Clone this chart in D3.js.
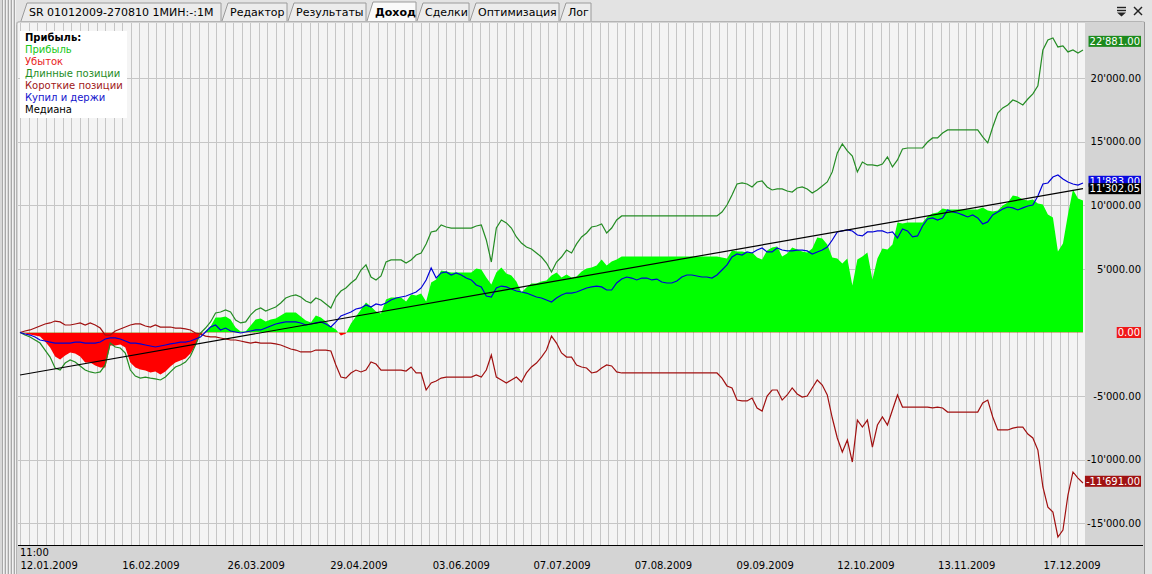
<!DOCTYPE html>
<html><head><meta charset="utf-8">
<script src="https://cdn.jsdelivr.net/npm/d3@7"></script>
<style>
html,body{margin:0;padding:0;background:#d4d4d4;overflow:hidden;}
svg{display:block;font-family:"DejaVu Sans",Verdana,sans-serif;}
</style></head><body>
<svg id="c" width="1152" height="574"></svg>
<script>
// ---- data (bar-sampled, start 12.01.2009 11:00) ----
const tabs = ["SR 01012009-270810 1МИН:-:1М","Редактор","Результаты","Доход","Сделки","Оптимизация","Лог"];
const activeTab = "Доход";
const legendTitle = "Прибыль:";
const legendItems = ["Прибыль","Убыток","Длинные позиции","Короткие позиции","Купил и держи","Медиана"];
const dateLabels = ["12.01.2009","16.02.2009","26.03.2009","29.04.2009","03.06.2009","07.07.2009","07.08.2009","09.09.2009","12.10.2009","13.11.2009","17.12.2009"];
const dateTickIdx = [0,20.3,41.3,61.8,82.2,102.3,122.5,142.8,162.9,183,204];
const timeLabel = "11:00";
const yTicks = [-15000,-10000,-5000,5000,10000,15000,20000];

const longPos = [0,-200,-350,-590,-830,-1380,-1930,-2790,-2950,-2400,-2160,-2320,-2630,-2950,-3100,-3180,-3100,-2550,-830,-1140,
-1220,-1610,-2950,-3420,-3580,-3500,-3580,-3650,-3730,-3500,-3100,-2710,-2550,-2320,-1850,-980,-40,350,830,1530,
1610,1770,1610,980,750,830,1380,1770,1930,1690,1850,2000,2320,2710,2870,2950,2790,2480,2320,2710,
2550,2240,1930,2790,3260,3500,3890,4200,4910,5310,4360,4130,4440,5540,5700,5700,5700,5460,5700,6090,
6250,6960,7900,7980,8450,8290,8210,8210,8210,8210,8210,8370,8450,7270,5540,8210,8840,8610,8210,7510,
7030,6720,6560,6250,5930,5460,4760,5540,5930,6480,6250,6960,7510,7820,8290,8370,8530,7820,8210,8840,
9160,9160,9160,9160,9160,9160,9160,9160,9160,9160,9160,9160,9160,9160,9160,9160,9160,9160,9160,9160,
9470,10020,10810,11670,11750,11670,11440,11830,11910,11440,11200,11280,11280,11120,11040,11360,11440,11280,10960,11200,
11510,11830,12620,14110,14820,14270,13870,12620,13400,13170,13170,13090,13240,13790,13010,13560,14420,14500,14500,14500,
14500,14970,15290,15290,15680,15920,15920,15920,15920,15920,15920,15920,15370,14900,16150,17250,17650,17880,18270,18120,
17880,18350,18750,19380,22200,22990,23150,22440,22520,22050,22200,21970,22200];

const shortPos = [0,120,200,350,510,670,750,900,830,590,590,670,750,590,750,590,350,-200,-200,120,
280,430,590,670,670,510,430,590,430,430,430,350,350,280,200,-40,-120,-280,-350,-350,
-430,-510,-590,-590,-670,-750,-830,-750,-830,-830,-830,-900,-980,-1140,-1300,-1380,-1530,-1530,-1530,-1380,
-1380,-1380,-1450,-2550,-3500,-3580,-3180,-2950,-3100,-2950,-2320,-2480,-2950,-2950,-2950,-2950,-2950,-3030,-2710,-3180,
-3180,-4520,-3970,-3810,-3580,-3500,-3500,-3500,-3500,-3500,-3500,-3340,-3500,-2950,-1770,-3500,-3730,-3970,-3730,-3500,
-3890,-3180,-2710,-2400,-1930,-1380,-280,-830,-1610,-1930,-1930,-2550,-2710,-2790,-3180,-3100,-2790,-2550,-2630,-3100,
-3180,-3180,-3180,-3180,-3180,-3180,-3180,-3180,-3180,-3180,-3180,-3180,-3180,-3180,-3180,-3180,-3180,-3180,-3180,-3180,
-3580,-4200,-4360,-5310,-5380,-5380,-5150,-5930,-6170,-4990,-4520,-4520,-5310,-4910,-4360,-4830,-5070,-4990,-4360,-3730,
-4130,-4910,-6720,-8290,-9390,-8450,-10180,-6880,-7430,-6880,-9000,-7270,-6640,-7270,-6090,-4910,-5860,-5860,-5860,-5860,
-5860,-5860,-5930,-5860,-5930,-6250,-6250,-6250,-6250,-6250,-6250,-6250,-5540,-5310,-6640,-7660,-7660,-7660,-7510,-7430,
-7430,-7980,-8290,-9240,-12140,-13720,-14110,-16070,-15520,-12770,-10960,-11440,-11830];

const buyHold = [0,-120,-200,-350,-590,-670,-750,-830,-830,-830,-830,-750,-750,-830,-830,-830,-750,-510,-430,-430,
-510,-670,-830,-830,-900,-980,-1060,-1140,-1060,-980,-900,-830,-750,-750,-670,-510,-350,40,430,590,
200,350,120,40,-40,40,120,200,200,350,510,670,750,830,830,830,750,590,670,750,
830,670,430,830,1300,1450,1610,1850,1930,2160,2000,2240,2160,2320,2550,2710,2790,2870,3030,3180,
3500,4130,5070,4280,4680,4760,4520,4680,4520,4280,4130,3730,3580,2870,2790,3500,3650,3580,3420,3260,
3180,3100,2950,2790,2710,2550,2400,2710,2950,3100,3100,3180,3340,3500,3580,3650,3580,3340,3340,3890,
4200,4360,4280,4130,4280,4280,4130,4200,3970,3890,3890,4050,4360,4520,4520,4440,4360,4360,4280,4520,
4910,5310,5930,6170,6090,6330,6250,6480,6640,6330,6330,6640,6480,6410,6410,6480,6480,6410,6170,6330,
6480,6720,7270,7900,7980,8060,7980,7660,7590,7900,7900,7980,7980,7820,7900,7430,8140,7980,7510,7590,
8370,8920,9000,8840,9000,9630,9470,9390,9240,9080,9240,9000,8530,8690,9240,9470,9710,9860,9790,9630,
9790,9940,10020,10730,11670,11750,12220,12380,12070,11830,11670,11590,11750];

const profit = [0,-80,-150,-240,-320,-710,-1180,-1890,-2120,-1810,-1570,-1650,-1880,-2360,-2350,-2590,-2750,-2750,-1030,-1020,
-940,-1180,-2360,-2750,-2910,-2990,-3150,-3060,-3300,-3070,-2670,-2360,-2200,-2040,-1650,-1020,-160,70,480,1180,
1180,1260,1020,390,80,80,550,1020,1100,860,1020,1100,1340,1570,1570,1570,1260,950,790,1330,
1170,860,480,240,-240,-80,710,1250,1810,2360,2040,1650,1490,2590,2750,2750,2750,2430,2990,2910,
3070,2440,3930,4170,4870,4790,4710,4710,4710,4710,4710,5030,4950,4320,3770,4710,5110,4640,4480,4010,
3140,3540,3850,3850,4000,4080,4480,4710,4320,4550,4320,4410,4800,5030,5110,5270,5740,5270,5580,5740,
5980,5980,5980,5980,5980,5980,5980,5980,5980,5980,5980,5980,5980,5980,5980,5980,5980,5980,5980,5980,
5890,5820,6450,6360,6370,6290,6290,5900,5740,6450,6680,6760,5970,6210,6680,6530,6370,6290,6600,7470,
7380,6920,5900,5820,5430,5820,3690,5740,5970,6290,4170,5820,6600,6520,6920,8650,8560,8640,8640,8640,
8640,9110,9360,9430,9750,9670,9670,9670,9670,9670,9670,9670,9830,9590,9510,9590,9990,10220,10760,10690,
10450,10370,10460,10140,10060,9270,9040,6370,7000,9280,11240,10530,10370];

const median = [-3340, 11302.05];           // straight trend line: first and last bar
const lastTags = [
  {name:"long",   value:22881,    color:"#1c8a1c"},
  {name:"loss",   value:0,        color:"#f01818"},
  {name:"short",  value:-11691,   color:"#a01212"},
  {name:"bh",     value:11883,    color:"#0a0ae0"},
  {name:"median", value:11302.05, color:"#000000"}
];

// ---- layout ----
const W = 1152, H = 574;
const plot = {l:18, r:1085, t:23, b:545};
const svg = d3.select("#c");
const N = longPos.length;
const x = d3.scaleLinear().domain([0, N-1]).range([20, 1083]);
const y = d3.scaleLinear().domain([0, 20000]).range([332.5, 78]);
const fmt = v => d3.format(",.2f")(v).replace(/,/g, "'").replace("−","-");

// background window
svg.append("rect").attr("width",W).attr("height",H).attr("fill","#d4d4d4");
// tab bar
svg.append("rect").attr("x",0).attr("y",0).attr("width",W).attr("height",22).attr("fill","#e3e3e3");
// left grip
const grip = svg.append("g");
grip.append("rect").attr("x",0).attr("y",0).attr("width",16).attr("height",H).attr("fill","#d8d8d8");
[2,5,8,11,14].forEach(gx=>{
  grip.append("line").attr("x1",gx+0.5).attr("x2",gx+0.5).attr("y1",0).attr("y2",H).attr("stroke","#a8a8a8");
  grip.append("line").attr("x1",gx+1.5).attr("x2",gx+1.5).attr("y1",0).attr("y2",H).attr("stroke","#f2f2f2");
});

// tabs
const tabEdges = [21,222,288,367,417,470,560,592];
const tabG = svg.append("g");
tabs.forEach((t,i)=>{
  const x0 = tabEdges[i], x1 = tabEdges[i+1]-1;
  const act = t===activeTab;
  tabG.append("path")
    .attr("d",`M${x0},21 L${x0+6},${act?2:3} L${x1},${act?2:3} L${x1},21`)
    .attr("fill", act ? "#fafafa" : "#ececec").attr("stroke","#9a9a9a").attr("stroke-width",1);
  tabG.append("text").attr("x",x0+8).attr("y",16).attr("font-size",11)
    .attr("font-weight", act?"bold":"normal").attr("fill","#000").text(t);
});
// window buttons
const btn = svg.append("g").attr("stroke","#222").attr("stroke-width",1.4).attr("fill","none");
btn.append("line").attr("x1",1117).attr("x2",1126).attr("y1",7.5).attr("y2",7.5);
btn.append("line").attr("x1",1117).attr("x2",1126).attr("y1",10.5).attr("y2",10.5);
svg.append("path").attr("d","M1117,12.5 L1126,12.5 L1121.5,16.5 Z").attr("fill","#222");
btn.append("line").attr("x1",1134).attr("x2",1142).attr("y1",7).attr("y2",15);
btn.append("line").attr("x1",1142).attr("x2",1134).attr("y1",7).attr("y2",15);

// panel frame
svg.append("rect").attr("x",16.5).attr("y",21.5).attr("width",1129).attr("height",560).attr("rx",3)
  .attr("fill","#d4d4d4").attr("stroke","#b4b4b4");

// plot bg
svg.append("rect").attr("x",plot.l).attr("y",plot.t).attr("width",plot.r-plot.l).attr("height",plot.b-plot.t).attr("fill","#f4f4f4");

// vertical grid
const gridIdx = d3.range(0, N+2, 1.7);
svg.append("g").selectAll("line").data(gridIdx).join("line")
  .attr("x1",d=>Math.round(x(d))+0.5).attr("x2",d=>Math.round(x(d))+0.5)
  .attr("y1",plot.t).attr("y2",plot.b)
  .attr("stroke","#c6c6c6").attr("stroke-width",1)
  .filter(d=>x(d)>plot.r).remove();
// horizontal grid
svg.append("g").selectAll("line").data(yTicks).join("line")
  .attr("x1",plot.l).attr("x2",plot.r)
  .attr("y1",d=>Math.round(y(d))+0.5).attr("y2",d=>Math.round(y(d))+0.5)
  .attr("stroke","#c6c6c6");

// clips
const defs = svg.append("defs");
defs.append("clipPath").attr("id","cp").append("rect").attr("x",plot.l).attr("y",plot.t).attr("width",plot.r-plot.l).attr("height",plot.b-plot.t);
defs.append("clipPath").attr("id","pos").append("rect").attr("x",plot.l).attr("y",plot.t).attr("width",plot.r-plot.l).attr("height",y(0)-plot.t);
defs.append("clipPath").attr("id","neg").append("rect").attr("x",plot.l).attr("y",y(0)).attr("width",plot.r-plot.l).attr("height",plot.b-y(0));

const g = svg.append("g").attr("clip-path","url(#cp)");
const area = d3.area().x((d,i)=>x(i)).y0(y(0)).y1(d=>y(d));
g.append("g").attr("clip-path","url(#pos)").append("path").datum(profit).attr("d",area).attr("fill","#00ff00");
g.append("g").attr("clip-path","url(#neg)").append("path").datum(profit).attr("d",area).attr("fill","#ff0000");

const line = d3.line().x((d,i)=>x(i)).y(d=>y(d));
g.append("path").datum(longPos).attr("d",line).attr("fill","none").attr("stroke","#248c24").attr("stroke-width",1.2);
g.append("path").datum(shortPos).attr("d",line).attr("fill","none").attr("stroke","#a01010").attr("stroke-width",1.2);
g.append("path").datum(buyHold).attr("d",line).attr("fill","none").attr("stroke","#0000d8").attr("stroke-width",1.2);
g.append("line").attr("x1",x(0)).attr("x2",x(N-1)).attr("y1",y(median[0])).attr("y2",y(median[1]))
  .attr("stroke","#000").attr("stroke-width",1.2);

// legend
const lg = svg.append("g");
lg.append("rect").attr("x",20).attr("y",31).attr("width",107).attr("height",87).attr("fill","#ffffff");
lg.append("text").attr("x",25).attr("y",41).attr("font-size",10).attr("font-weight","bold").text(legendTitle);
const legColors = ["#16c816","#e81c1c","#1e8c1e","#a01818","#1414cc","#000000"];
legendItems.forEach((t,i)=>{
  lg.append("text").attr("x",25).attr("y",53+12*i).attr("font-size",10).attr("fill",legColors[i]).text(t);
});

// right axis panel
svg.append("rect").attr("x",plot.r).attr("y",plot.t).attr("width",1143-plot.r).attr("height",plot.b-plot.t).attr("fill","#d4d4d4");
const ax = svg.append("g").attr("transform","translate(1141,0)");
const yAxis = d3.axisRight(y).tickValues(yTicks).tickSize(0).tickFormat(fmt);
ax.call(yAxis);
ax.select(".domain").remove();
ax.selectAll("text").attr("x",0).attr("text-anchor","end").attr("font-size",10).attr("font-family","DejaVu Sans").attr("fill","#000");

// last value tags
const tg = svg.append("g");
lastTags.forEach(tg0=>{
  const label = fmt(tg0.value);
  const cy = y(tg0.value);
  const t = tg.append("text").attr("x",1140).attr("y",cy).attr("dy","0.36em").attr("text-anchor","end")
    .attr("font-size",10).attr("fill","#fff").text(label);
  const bb = t.node().getBBox();
  tg.insert("rect","text:last-child").attr("x",bb.x-1).attr("y",cy-5.5).attr("width",bb.width+2).attr("height",11).attr("fill",tg0.color);
  t.raise();
});

// bottom axis
svg.append("line").attr("x1",plot.l).attr("x2",1143).attr("y1",plot.b+0.5).attr("y2",plot.b+0.5).attr("stroke","#000");
svg.append("text").attr("x",20).attr("y",556).attr("font-size",10).text(timeLabel);
const xAxis = d3.axisBottom(x).tickValues(dateTickIdx).tickSize(0).tickFormat((d,i)=>dateLabels[i]);
const xg = svg.append("g").attr("transform","translate(0,562)").call(xAxis);
xg.select(".domain").remove();
xg.selectAll("text").attr("y",0).attr("dy","0.71em").attr("text-anchor","start").attr("font-size",10).attr("font-family","DejaVu Sans").attr("fill","#000");

// right border
svg.append("line").attr("x1",1144.5).attr("x2",1144.5).attr("y1",22).attr("y2",H).attr("stroke","#9a9a9a");
svg.append("rect").attr("x",1145).attr("y",22).attr("width",7).attr("height",H-22).attr("fill","#e4e4e4");
</script>
</body></html>
